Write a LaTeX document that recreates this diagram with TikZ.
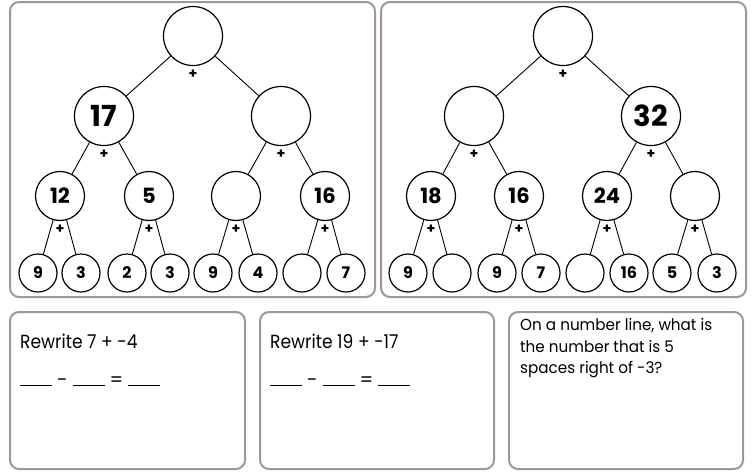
\documentclass[tikz,border=0pt]{standalone}
\usepackage{fontspec}
\setmainfont{Poppins}
\definecolor{frame}{RGB}{160,150,150}
\tikzset{
  panel/.style={draw=frame,line width=2pt,rounded corners=9pt},
  c1/.style={circle,draw,line width=1.2pt,minimum size=59pt,inner sep=0pt,font=\fontsize{29}{29}\selectfont\bfseries},
  c3/.style={circle,draw,line width=1.2pt,minimum size=49pt,inner sep=0pt,font=\fontsize{21}{21}\selectfont\bfseries},
  c4/.style={circle,draw,line width=1.2pt,minimum size=38pt,inner sep=0pt,font=\fontsize{16}{16}\selectfont\bfseries},
  plus/.style={inner sep=0pt,font=\fontsize{14}{14}\selectfont\bfseries},
  link/.style={line width=0.9pt},
  txt/.style={anchor=base west,inner sep=0pt,font=\fontsize{19}{19}\selectfont},
  qtxt/.style={anchor=base west,inner sep=0pt,font=\fontsize{16}{16}\selectfont}
}
\newcommand\blank{\rule{32pt}{1pt}}
\begin{document}
\begin{tikzpicture}[x=1pt,y=-1pt]
\useasboundingbox (0,0) rectangle (754,471);
% panels
\draw[panel] (10,2) rectangle (375,297);
\draw[panel] (381,2) rectangle (746,297);
\draw[panel] (10,312) rectangle (245,469);
\draw[panel] (260,312) rectangle (494,469);
\draw[panel] (509,312) rectangle (743,469);

% left tree
\begin{scope}[name prefix=L-]
\node[c1] (t) at (193,36) {};
\node[c1] (a) at (104,116) {17};
\node[c1] (b) at (281,116) {};
\node[c3] (a1) at (60,196) {12};
\node[c3] (a2) at (149,196) {5};
\node[c3] (b1) at (236,196) {};
\node[c3] (b2) at (325,196) {16};
\node[c4] (l1) at (38,273) {9};
\node[c4] (l2) at (81,273) {3};
\node[c4] (l3) at (127,273) {2};
\node[c4] (l4) at (170,273) {3};
\node[c4] (l5) at (213,273) {9};
\node[c4] (l6) at (258,273) {4};
\node[c4] (l7) at (302,273) {};
\node[c4] (l8) at (346,273) {7};
\draw[link] (t)--(a) (t)--(b) (a)--(a1) (a)--(a2) (b)--(b1) (b)--(b2)
  (a1)--(l1) (a1)--(l2) (a2)--(l3) (a2)--(l4) (b1)--(l5) (b1)--(l6) (b2)--(l7) (b2)--(l8);
\foreach \n in {t,a,b,a1,a2,b1,b2}{\node[plus] at ([yshift=-8pt]L-\n.south) {+};}
\end{scope}

% right tree
\begin{scope}[name prefix=R-]
\node[c1] (t) at (563,36) {};
\node[c1] (a) at (474,116) {};
\node[c1] (b) at (651,116) {32};
\node[c3] (a1) at (431,196) {18};
\node[c3] (a2) at (519,196) {16};
\node[c3] (b1) at (607,196) {24};
\node[c3] (b2) at (695,196) {};
\node[c4] (l1) at (408,273) {9};
\node[c4] (l2) at (452,273) {};
\node[c4] (l3) at (497,273) {9};
\node[c4] (l4) at (541,273) {7};
\node[c4] (l5) at (585,273) {};
\node[c4] (l6) at (629,273) {16};
\node[c4] (l7) at (672,273) {5};
\node[c4] (l8) at (717,273) {3};
\draw[link] (t)--(a) (t)--(b) (a)--(a1) (a)--(a2) (b)--(b1) (b)--(b2)
  (a1)--(l1) (a1)--(l2) (a2)--(l3) (a2)--(l4) (b1)--(l5) (b1)--(l6) (b2)--(l7) (b2)--(l8);
\foreach \n in {t,a,b,a1,a2,b1,b2}{\node[plus] at ([yshift=-8pt]R-\n.south) {+};}
\end{scope}

% bottom texts
\node[txt] (r1) at (20,348) {\scalebox{0.9}[1]{Rewrite 7 + -4}};
\node[txt] (e1) at (20,386) {\blank\hspace{5pt}-\hspace{5pt}\blank\hspace{5pt}=\hspace{5pt}\blank};
\node[txt] (r2) at (270,348) {\scalebox{0.9}[1]{Rewrite 19 + -17}};
\node[txt] (e2) at (270,386) {\blank\hspace{5pt}-\hspace{5pt}\blank\hspace{5pt}=\hspace{5pt}\blank};
\node[qtxt] (q1) at (520,330) {\scalebox{0.95}[1]{On a number line, what is}};
\node[qtxt] (q2) at (520,352) {\scalebox{0.95}[1]{the number that is 5}};
\node[qtxt] (q3) at (520,373) {\scalebox{0.95}[1]{spaces right of -3?}};
\end{tikzpicture}
\end{document}
